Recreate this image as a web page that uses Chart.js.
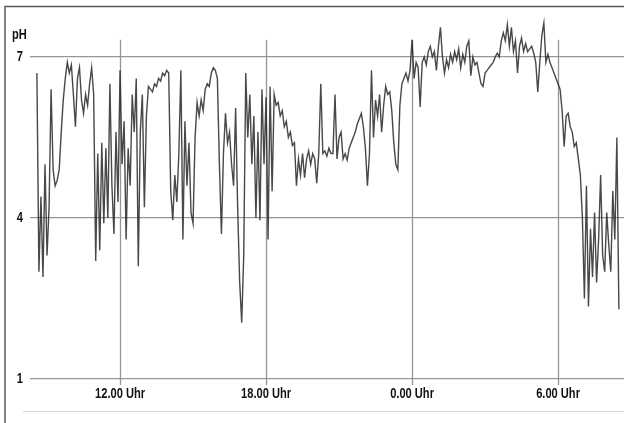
<!DOCTYPE html>
<html>
<head>
<meta charset="utf-8">
<script src="https://cdn.jsdelivr.net/npm/chart.js@4"></script>
<style>
  html, body { margin: 0; padding: 0; background: #fff; }
  #wrap { width: 624px; height: 423px; }
</style>
</head>
<body>
<div id="wrap"><canvas id="myChart" width="624" height="423"></canvas></div>
<script>
//** DATA: pH logger, one reading every 5 minutes from 8:35 */
const startHour = 8 + 35 / 60;
const stepMinutes = 5;
const phValues = [
  6.7, 3.0, 4.4, 2.9, 5.0, 3.3, 4.2, 6.4, 4.9, 4.6,
  4.7, 4.9, 5.6, 6.2, 6.6, 6.9, 6.7, 6.85, 6.3, 5.7,
  6.6, 6.8, 6.2, 5.95, 6.3, 6.1, 6.5, 6.8, 6.3, 3.2,
  5.2, 3.4, 5.4, 3.9, 5.3, 4.0, 6.5, 4.6, 3.7, 5.6,
  4.3, 6.75, 5.0, 5.8, 3.6, 5.3, 4.6, 6.3, 5.6, 6.6,
  3.1, 5.6, 6.3, 4.2, 5.9, 6.45, 6.4, 6.35, 6.5, 6.45,
  6.6, 6.55, 6.7, 6.65, 6.75, 6.7, 4.5, 3.96, 4.8, 4.3,
  5.2, 6.75, 3.6, 5.8, 4.6, 5.4, 4.1, 3.9, 5.5, 6.15,
  5.9, 6.2, 6.0, 6.4, 6.5, 6.45, 6.7, 6.8, 6.75, 6.6,
  5.0, 3.7, 5.2, 5.95, 5.4, 5.6, 5.0, 4.6, 6.05, 4.2,
  2.8, 2.05, 3.3, 6.7, 5.5, 6.3, 5.0, 5.9, 4.0, 5.6,
  3.96, 6.4, 5.0, 6.25, 3.6, 6.45, 4.5, 6.3, 6.1, 6.15,
  5.9, 6.0, 5.7, 5.8, 5.5, 5.6, 5.35, 5.4, 4.6, 5.1,
  4.8, 5.2, 4.75, 5.1, 5.25, 5.0, 5.2, 5.1, 4.65, 5.2,
  6.5, 5.2, 5.25, 5.15, 5.3, 5.2, 5.2, 6.3, 5.1, 5.5,
  5.6, 5.1, 5.2, 5.08, 5.3, 5.4, 5.5, 5.6, 5.75, 5.85,
  5.95, 5.7, 5.3, 4.6, 5.2, 6.75, 5.5, 6.2, 5.9, 6.3,
  5.6, 6.1, 6.45, 6.3, 6.35, 6.0, 5.4, 5.0, 4.9, 6.1,
  6.5, 6.6, 6.7, 6.55, 6.75, 7.32, 6.6, 6.9, 6.8, 6.07,
  6.9, 7.0, 6.85, 7.1, 7.2, 7.0, 7.1, 6.75, 7.2, 7.55,
  7.0, 6.7, 6.95, 6.8, 7.05, 6.9, 7.1, 6.95, 7.15, 6.8,
  7.05, 6.9, 7.2, 7.3, 6.65, 7.0, 6.85, 6.9, 6.7, 6.5,
  6.45, 6.7, 6.75, 6.8, 6.85, 6.9, 7.0, 7.07, 7.0, 7.3,
  7.45, 7.3, 7.6, 7.2, 7.55, 7.1, 7.3, 6.7, 7.2, 7.35,
  7.1, 7.25, 7.1, 7.15, 7.2, 7.07, 6.9, 6.35, 6.9, 7.4,
  7.63, 6.9, 7.05, 6.9, 6.8, 6.7, 6.6, 6.5, 6.4, 6.0,
  5.33, 5.9, 5.95, 5.7, 5.6, 5.33, 5.4, 5.1, 4.8, 4.0,
  2.5, 4.6, 2.35, 3.8, 2.9, 4.1, 2.8, 3.6, 4.8, 3.3,
  3.0, 4.1, 3.5, 3.0, 4.5, 3.6, 5.5, 2.3
];

//** AXIS TICKS (hours counted on from midnight of day one) */
const timeTicks = [12, 18, 24, 30];
const timeLabels = ["12.00 Uhr", "18.00 Uhr", "0.00 Uhr", "6.00 Uhr"];
const phTicks = [1, 4, 7];

const labelFont = '"Liberation Sans", Arial, sans-serif';
const gridColor = "rgb(150,150,150)";
const squeeze = 0.74; // condensed look of the printed labels

const points = phValues.map((v, i) => ({ x: startHour + i * stepMinutes / 60, y: v }));

//** draws a bold, horizontally squeezed label */
function narrowText(c, text, x, y, align) {
  c.save();
  c.translate(x, y);
  c.scale(squeeze, 1);
  c.textAlign = align;
  c.fillText(text, 0, 0);
  c.restore();
}

//** FRAME, LABELS AND SHORT VERTICAL GRID LINES */
const framePlugin = {
  id: "frame",
  beforeDraw(chart) {
    const c = chart.ctx;
    c.save();
    c.fillStyle = "#fff";
    c.fillRect(0, 0, chart.width, chart.height);
    c.strokeStyle = "rgb(90,90,90)";
    c.lineWidth = 1.5;
    c.beginPath();
    c.moveTo(5, 423);
    c.lineTo(5, 6.5);
    c.lineTo(624, 6.5);
    c.stroke();
    c.strokeStyle = "rgb(215,215,215)";
    c.lineWidth = 1;
    c.beginPath();
    c.moveTo(23, 411.5);
    c.lineTo(624, 411.5);
    c.stroke();
    c.restore();
  },
  beforeDatasetsDraw(chart) {
    const c = chart.ctx;
    const xs = chart.scales.x, ys = chart.scales.y;
    const top = ys.getPixelForValue(7.32);
    const bottom = chart.chartArea.bottom + 6;
    c.save();
    c.strokeStyle = gridColor;
    c.lineWidth = 1.3;
    timeTicks.forEach(t => {
      const px = Math.round(xs.getPixelForValue(t)) + 0.5;
      c.beginPath();
      c.moveTo(px, top);
      c.lineTo(px, bottom);
      c.stroke();
    });
    c.restore();
  },
  afterDraw(chart) {
    const c = chart.ctx;
    const xs = chart.scales.x, ys = chart.scales.y;
    c.save();
    c.fillStyle = "#111";
    c.font = "bold 15px " + labelFont;
    c.textBaseline = "middle";
    narrowText(c, "pH", 12, 35, "left");
    phTicks.forEach(v => narrowText(c, String(v), 23, ys.getPixelForValue(v), "right"));
    timeTicks.forEach((t, i) => narrowText(c, timeLabels[i], xs.getPixelForValue(t), 394, "center"));
    c.restore();
  }
};

const config = {
  type: "line",
  data: {
    datasets: [{
      data: points,
      borderColor: "rgba(40,40,40,0.85)",
      borderWidth: 1.4,
      pointRadius: 0,
      tension: 0,
      fill: false,
    }],
  },
  options: {
    responsive: false,
    animation: false,
    layout: { padding: { left: 4, right: 0, top: 14, bottom: 0 } },
    plugins: {
      legend: { display: false },
      tooltip: { enabled: false },
    },
    scales: {
      x: {
        type: "linear",
        min: 8.3,
        max: 32.71,
        afterBuildTicks: (s) => { s.ticks = timeTicks.map(v => ({ value: v })); },
        afterFit: (s) => { s.height = 44; },
        border: { display: false },
        grid: { display: false },
        ticks: { display: false },
      },
      y: {
        min: 1,
        max: 7.8,
        afterBuildTicks: (s) => { s.ticks = phTicks.map(v => ({ value: v })); },
        afterFit: (s) => { s.width = 26; },
        border: { display: false },
        grid: { color: gridColor, lineWidth: 1.3, drawTicks: false },
        ticks: { display: false },
      },
    },
  },
  plugins: [framePlugin],
};

const chart = new Chart(document.getElementById("myChart"), config);
</script>
</body>
</html>
